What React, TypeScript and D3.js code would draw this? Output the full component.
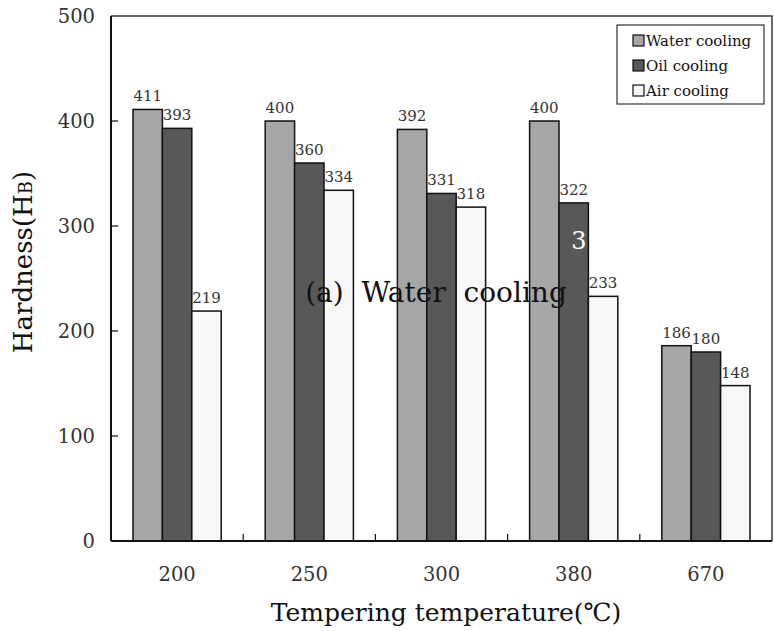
import { useEffect, useRef } from "react"
import * as d3 from "d3"

const temperatures = ["200", "250", "300", "380", "670"]
const seriesNames = ["Water cooling", "Oil cooling", "Air cooling"]
const waterCooling = [411, 400, 392, 400, 186]
const oilCooling = [393, 360, 331, 322, 180]
const airCooling = [219, 334, 318, 233, 148]
const yTicks = [0, 100, 200, 300, 400, 500]
const colors = ["#a6a6a6", "#585858", "#f7f7f7"]

export default function App() {
  const svgRef = useRef<SVGSVGElement>(null)

  useEffect(() => {
    if (!svgRef.current) return
    const width = 774
    const height = 631
    const margin = { top: 16, right: 2, bottom: 90, left: 111 }
    const font = "DejaVu Serif"

    d3.select(svgRef.current).selectAll("*").remove()
    const svg = d3
      .select(svgRef.current)
      .attr("width", width)
      .attr("height", height)

    const x = d3
      .scaleBand()
      .domain(temperatures)
      .range([margin.left, width - margin.right])
      .paddingInner(0)
      .paddingOuter(0)

    const xs = d3
      .scaleBand()
      .domain(seriesNames)
      .range([22, x.bandwidth() - 22])

    const y = d3
      .scaleLinear()
      .domain([0, 500])
      .range([height - margin.bottom, margin.top])

    const series = [waterCooling, oilCooling, airCooling]

    // frame top/right
    svg
      .append("path")
      .attr("d", `M${margin.left},${margin.top}H${width - margin.right}V${height - margin.bottom}`)
      .attr("fill", "none")
      .attr("stroke", "#3a3a3a")
      .attr("stroke-width", 1.5)

    // bars
    series.forEach((vals, si) => {
      const g = svg.append("g")
      g.selectAll("rect")
        .data(vals)
        .join("rect")
        .attr("x", (_, i) => (x(temperatures[i]) as number) + (xs(seriesNames[si]) as number))
        .attr("y", (d) => y(d))
        .attr("width", xs.bandwidth())
        .attr("height", (d) => y(0) - y(d))
        .attr("fill", colors[si])
        .attr("stroke", "#111")
        .attr("stroke-width", 1.5)

      g.selectAll("text")
        .data(vals)
        .join("text")
        .attr("x", (_, i) => (x(temperatures[i]) as number) + (xs(seriesNames[si]) as number) + xs.bandwidth() / 2)
        .attr("y", (d) => y(d) - 8)
        .attr("text-anchor", "middle")
        .attr("font-family", font)
        .attr("font-size", 15)
        .attr("fill", "#333")
        .text((d) => d)
    })

    // x axis
    const xAxis = svg.append("g").attr("transform", `translate(0,${y(0)})`)
    xAxis
      .append("line")
      .attr("x1", margin.left)
      .attr("x2", width - margin.right)
      .attr("stroke", "#111")
      .attr("stroke-width", 2)
    xAxis
      .selectAll("line.tick")
      .data(temperatures.slice(1))
      .join("line")
      .attr("class", "tick")
      .attr("x1", (d) => x(d) as number)
      .attr("x2", (d) => x(d) as number)
      .attr("y1", 0)
      .attr("y2", -7)
      .attr("stroke", "#111")
      .attr("stroke-width", 1.2)
    xAxis
      .selectAll("text")
      .data(temperatures)
      .join("text")
      .attr("x", (d) => (x(d) as number) + x.bandwidth() / 2)
      .attr("y", 40)
      .attr("text-anchor", "middle")
      .attr("font-family", font)
      .attr("font-size", 19.5)
      .attr("fill", "#333")
      .text((d) => d)

    // y axis
    const yAxis = svg.append("g").attr("transform", `translate(${margin.left},0)`)
    yAxis
      .append("line")
      .attr("y1", y(0))
      .attr("y2", y(500))
      .attr("stroke", "#111")
      .attr("stroke-width", 2)
    yAxis
      .selectAll("line.tick")
      .data(yTicks.slice(1, -1))
      .join("line")
      .attr("class", "tick")
      .attr("y1", (d) => y(d))
      .attr("y2", (d) => y(d))
      .attr("x1", 0)
      .attr("x2", 7)
      .attr("stroke", "#111")
      .attr("stroke-width", 1.2)
    yAxis
      .selectAll("text")
      .data(yTicks)
      .join("text")
      .attr("x", -16)
      .attr("y", (d) => y(d) + 7)
      .attr("text-anchor", "end")
      .attr("font-family", font)
      .attr("font-size", 19.5)
      .attr("fill", "#333")
      .text((d) => d)

    // axis titles
    svg
      .append("text")
      .attr("x", 446)
      .attr("y", 621)
      .attr("text-anchor", "middle")
      .attr("font-family", font)
      .attr("font-size", 25)
      .attr("fill", "#111")
      .text("Tempering temperature(℃)")

    const yt = svg
      .append("text")
      .attr("transform", `translate(32,262) rotate(-90)`)
      .attr("text-anchor", "middle")
      .attr("font-family", font)
      .attr("font-size", 26)
      .attr("fill", "#111")
    yt.append("tspan").text("Hardness(H")
    yt.append("tspan").attr("font-size", 18).text("B")
    yt.append("tspan").text(")")

    // legend
    const lg = svg.append("g").attr("transform", "translate(617,25)")
    lg.append("rect")
      .attr("width", 147)
      .attr("height", 79)
      .attr("fill", "#fff")
      .attr("stroke", "#333")
      .attr("stroke-width", 1.2)
    seriesNames.forEach((name, i) => {
      lg.append("rect")
        .attr("x", 16)
        .attr("y", 10 + i * 25)
        .attr("width", 11)
        .attr("height", 11)
        .attr("fill", colors[i])
        .attr("stroke", "#111")
        .attr("stroke-width", 1.2)
      lg.append("text")
        .attr("x", 29)
        .attr("y", 21 + i * 25)
        .attr("font-family", font)
        .attr("font-size", 15)
        .attr("fill", "#111")
        .text(name)
    })

    // overlaid caption
    svg
      .append("text")
      .attr("x", 436)
      .attr("y", 302)
      .attr("text-anchor", "middle")
      .attr("font-family", font)
      .attr("font-size", 28)
      .attr("fill", "#111")
      .style("white-space", "pre")
      .text("(a)  Water  cooling")
    svg
      .append("text")
      .attr("x", 579)
      .attr("y", 249)
      .attr("text-anchor", "middle")
      .attr("font-family", font)
      .attr("font-size", 24)
      .attr("fill", "#fff")
      .text("3")
  }, [])

  return (
    <svg
      ref={svgRef}
      style={{ position: "absolute", left: 0, top: 0, background: "#fff" }}
    />
  )
}
